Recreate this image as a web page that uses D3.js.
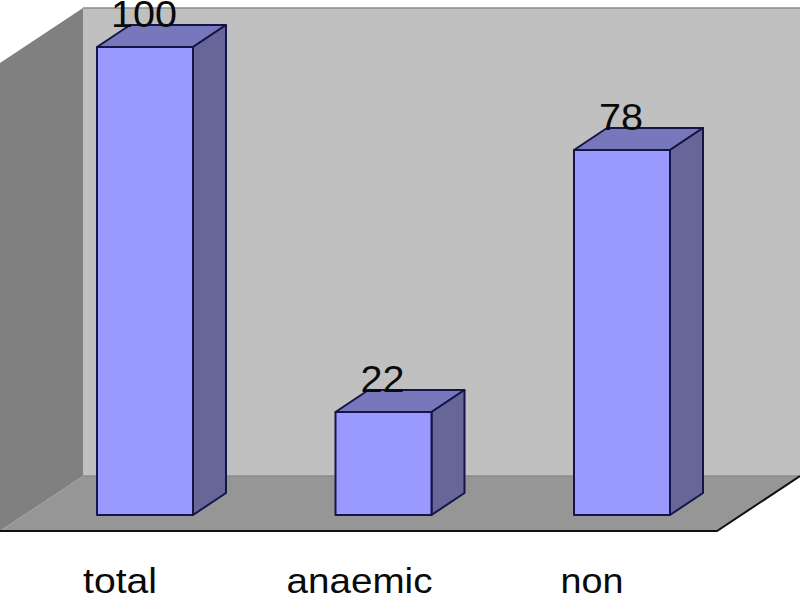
<!DOCTYPE html>
<html>
<head>
<meta charset="utf-8">
<script src="https://cdn.jsdelivr.net/npm/d3@7"></script>
<style>
  html, body { margin: 0; padding: 0; background: #fff; }
  svg { display: block; }
  text { font-family: "Liberation Sans", Arial, sans-serif; fill: #0a0a0a; }
</style>
</head>
<body>
<div id="chart"></div>
<script>
// data
var categories = ["total", "anaemic", "non"];
var values = [100, 22, 78];

var svgWidth = 800;
var svgHeight = 597;

// 3d box offset, same for walls and bars
var depthX = 33;
var depthY = 22;

var svg = d3.select("#chart")
  .append("svg")
  .attr("width", svgWidth)
  .attr("height", svgHeight);

var xScale = d3.scaleBand()
  .domain(categories)
  .range([97, 670])
  .paddingInner(0.5975)
  .paddingOuter(0);

var yScale = d3.scaleLinear()
  .domain([0, 100])
  .range([515, 47]);

// walls and floor
var wallLeft = 83, wallRight = 800, wallTop = 8, wallBottom = 476;
var frontBottom = 531, frontRight = 717;

function poly(points, fill) {
  return svg.append("polygon")
    .attr("points", points.map(p => p.join(",")).join(" "))
    .attr("fill", fill);
}

poly([[wallLeft, wallTop], [wallRight, wallTop], [wallRight, wallBottom], [wallLeft, wallBottom]], "#c0c0c0");
poly([[0, 63], [wallLeft, wallTop], [wallLeft, wallBottom], [0, frontBottom]], "#808080");
poly([[0, frontBottom], [wallLeft, wallBottom], [wallRight, wallBottom], [frontRight, frontBottom]], "#969696");

// thin grey edges of the wall
svg.append("path")
  .attr("d", `M${wallLeft},${wallTop}H${wallRight}M${wallLeft},${wallBottom}H${wallRight}`)
  .attr("fill", "none")
  .attr("stroke", "#8c8c8c")
  .attr("stroke-width", 1.5);

// front and right edge of the floor
svg.append("path")
  .attr("d", `M0,${frontBottom}H${frontRight}L${wallRight},${wallBottom}`)
  .attr("fill", "none")
  .attr("stroke", "#111")
  .attr("stroke-width", 2);

// one group per bar: front, top and side faces
var bars = svg.selectAll(".bar")
  .data(values)
  .enter()
  .append("g")
  .attr("class", "bar")
  .attr("stroke", "#15154a")
  .attr("stroke-width", 2)
  .attr("stroke-linejoin", "round");

var barX = (d, i) => xScale(categories[i]);
var barEnd = (d, i) => xScale(categories[i]) + xScale.bandwidth();

bars.append("polygon")
  .attr("fill", "#7777bb")
  .attr("points", (d, i) => {
    var x0 = barX(d, i), x1 = barEnd(d, i), y = yScale(d);
    return `${x0},${y} ${x1},${y} ${x1 + depthX},${y - depthY} ${x0 + depthX},${y - depthY}`;
  });

bars.append("polygon")
  .attr("fill", "#666699")
  .attr("points", (d, i) => {
    var x1 = barEnd(d, i), y = yScale(d), y0 = yScale(0);
    return `${x1},${y} ${x1 + depthX},${y - depthY} ${x1 + depthX},${y0 - depthY} ${x1},${y0}`;
  });

bars.append("rect")
  .attr("fill", "#9999ff")
  .attr("x", barX)
  .attr("y", d => yScale(d))
  .attr("width", xScale.bandwidth())
  .attr("height", d => yScale(0) - yScale(d));

// value labels sit on top of the bars, the picture has them a bit wide
svg.selectAll(".value")
  .data(values)
  .enter()
  .append("text")
  .attr("class", "value")
  .attr("x", (d, i) => barX(d, i) + xScale.bandwidth() / 2 - 1)
  .attr("y", d => yScale(d) - 20)
  .attr("text-anchor", "middle")
  .attr("font-size", 36)
  .attr("textLength", d => String(d).length * 22)
  .attr("lengthAdjust", "spacingAndGlyphs")
  .text(d => d);

// category labels, drawn with an axis, they sit left of the bars
var labelShift = [-25, -24, -30];
var labelWidth = [74, 146, 63];

var xAxis = svg.append("g")
  .attr("transform", "translate(0, 593)")
  .call(d3.axisBottom(xScale).tickSize(0).tickPadding(0));

xAxis.select(".domain").remove();

xAxis.selectAll("text")
  .attr("y", 0)
  .attr("dy", 0)
  .attr("dx", (d, i) => labelShift[i])
  .attr("font-size", 35)
  .attr("textLength", (d, i) => labelWidth[i])
  .attr("lengthAdjust", "spacingAndGlyphs");
</script>
</body>
</html>
